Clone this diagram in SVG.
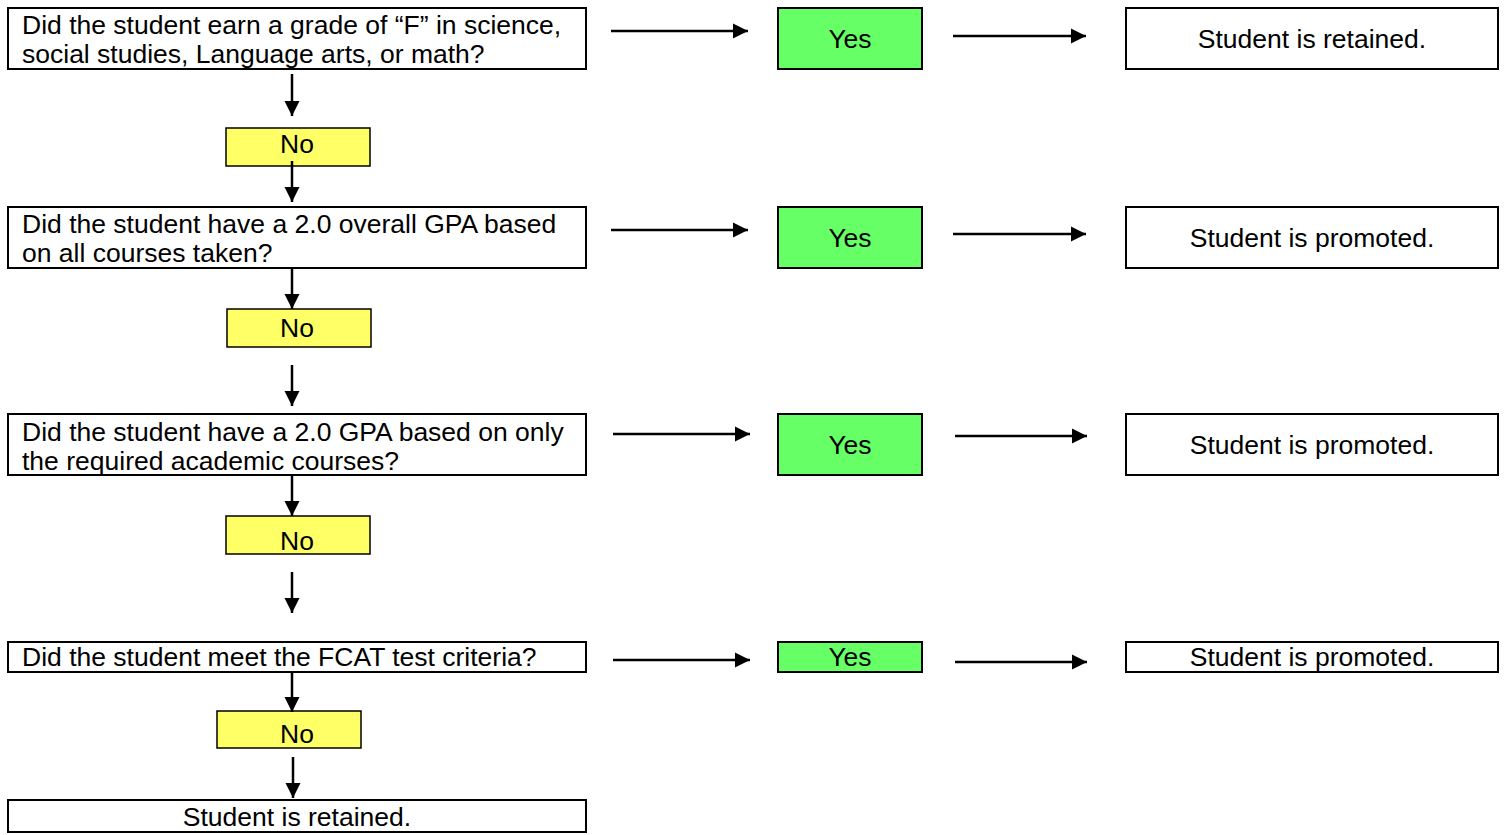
<svg xmlns="http://www.w3.org/2000/svg" width="1506" height="835" viewBox="0 0 1506 835">
  <defs>
    <marker id="head" markerUnits="userSpaceOnUse" markerWidth="17" markerHeight="17" refX="15" refY="8" orient="auto">
      <path d="M0,0.5 L15,8 L0,15.5 Z" fill="#000"/>
    </marker>
    <style>
      .box { fill: #fff; stroke: #000; stroke-width: 2; }
      .yes { fill: #66ff66; stroke: #000; stroke-width: 2; }
      .no { fill: #ffff66; stroke: #000; stroke-width: 1.5; }
      text { font-family: "Liberation Sans", Arial, sans-serif; font-size: 26.5px; fill: #000; }
      .c { text-anchor: middle; }
      .link { stroke: #000; stroke-width: 2.5; fill: none; marker-end: url(#head); }
    </style>
  </defs>
  <rect width="1506" height="835" fill="#fff"/>

  <!-- Question boxes -->
  <g id="q1">
    <rect class="box" x="8" y="8" width="578" height="61"/>
    <text x="22" y="34">Did the student earn a grade of “F” in science,</text>
    <text x="22" y="63">social studies, Language arts, or math?</text>
  </g>
  <g id="q2">
    <rect class="box" x="8" y="207" width="578" height="61"/>
    <text x="22" y="233">Did the student have a 2.0 overall GPA based</text>
    <text x="22" y="262">on all courses taken?</text>
  </g>
  <g id="q3">
    <rect class="box" x="8" y="414" width="578" height="61"/>
    <text x="22" y="441">Did the student have a 2.0 GPA based on only</text>
    <text x="22" y="470">the required academic courses?</text>
  </g>
  <g id="q4">
    <rect class="box" x="8" y="642" width="578" height="30"/>
    <text x="22" y="666">Did the student meet the FCAT test criteria?</text>
  </g>
  <g id="final">
    <rect class="box" x="8" y="800" width="578" height="32"/>
    <text class="c" x="297" y="826">Student is retained.</text>
  </g>

  <!-- "No" labels -->
  <g id="no1">
    <rect class="no" x="226" y="128" width="144" height="38"/>
    <text class="c" x="297" y="153">No</text>
  </g>
  <g id="no2">
    <rect class="no" x="227" y="309" width="144" height="38"/>
    <text class="c" x="297" y="337">No</text>
  </g>
  <g id="no3">
    <rect class="no" x="226" y="516" width="144" height="38"/>
    <text class="c" x="297" y="550">No</text>
  </g>
  <g id="no4">
    <rect class="no" x="217" y="711" width="144" height="37"/>
    <text class="c" x="297" y="743">No</text>
  </g>

  <!-- "Yes" labels -->
  <g id="yes1">
    <rect class="yes" x="778" y="8" width="144" height="61"/>
    <text class="c" x="850" y="48">Yes</text>
  </g>
  <g id="yes2">
    <rect class="yes" x="778" y="207" width="144" height="61"/>
    <text class="c" x="850" y="247">Yes</text>
  </g>
  <g id="yes3">
    <rect class="yes" x="778" y="414" width="144" height="61"/>
    <text class="c" x="850" y="454">Yes</text>
  </g>
  <g id="yes4">
    <rect class="yes" x="778" y="642" width="144" height="30"/>
    <text class="c" x="850" y="666">Yes</text>
  </g>

  <!-- Outcomes -->
  <g id="r1">
    <rect class="box" x="1126" y="8" width="372" height="61"/>
    <text class="c" x="1312" y="48">Student is retained.</text>
  </g>
  <g id="r2">
    <rect class="box" x="1126" y="207" width="372" height="61"/>
    <text class="c" x="1312" y="247">Student is promoted.</text>
  </g>
  <g id="r3">
    <rect class="box" x="1126" y="414" width="372" height="61"/>
    <text class="c" x="1312" y="454">Student is promoted.</text>
  </g>
  <g id="r4">
    <rect class="box" x="1126" y="642" width="372" height="30"/>
    <text class="c" x="1312" y="666">Student is promoted.</text>
  </g>

  <!-- Connectors -->
  <g id="connectors">
    <line class="link" x1="611" y1="31" x2="748" y2="31"/>
    <line class="link" x1="953" y1="36" x2="1086" y2="36"/>
    <line class="link" x1="611" y1="230" x2="748" y2="230"/>
    <line class="link" x1="953" y1="234" x2="1086" y2="234"/>
    <line class="link" x1="613" y1="434" x2="750" y2="434"/>
    <line class="link" x1="955" y1="436" x2="1087" y2="436"/>
    <line class="link" x1="613" y1="660" x2="750" y2="660"/>
    <line class="link" x1="955" y1="662" x2="1087" y2="662"/>

    <line class="link" x1="292" y1="74" x2="292" y2="116"/>
    <line class="link" x1="292" y1="161" x2="292" y2="202"/>
    <line class="link" x1="292" y1="269" x2="292" y2="309"/>
    <line class="link" x1="292" y1="365" x2="292" y2="406"/>
    <line class="link" x1="292" y1="476" x2="292" y2="516"/>
    <line class="link" x1="292" y1="572" x2="292" y2="613"/>
    <line class="link" x1="292" y1="673" x2="292" y2="712"/>
    <line class="link" x1="293" y1="757" x2="293" y2="798"/>
  </g>
</svg>
